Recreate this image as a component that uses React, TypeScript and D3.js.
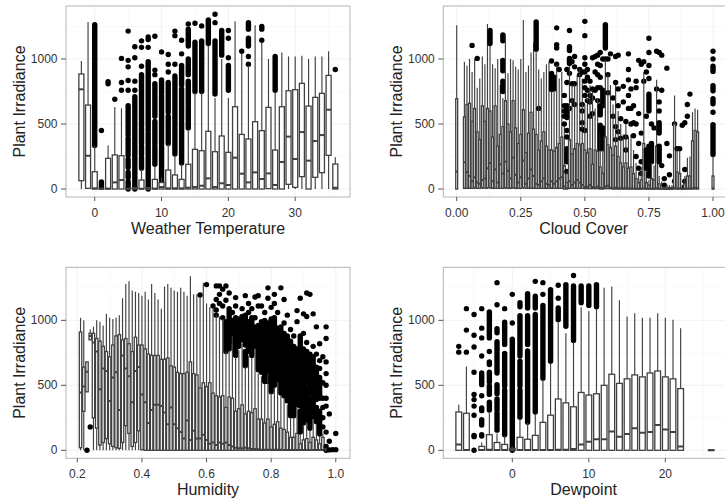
import React from 'react';
import * as d3 from 'd3';

// box rows: [x, low, q1, median, q3, high], runs: [x, lo, hi] for overplotted outliers, dots: [x, y]
type Box = number[];

const yTicks = [0, 500, 1000];
const yMinor = [250, 750, 1250];

const tempBoxes: Box[] = [
  [-2, 0, 64, 767, 885, 985], [-1, 0, 5, 256, 646, 1285], [0, 0, 0, 5, 133, 330], [1, 0, 0, 0, 5, 10],
  [2, 0, 0, 3, 236, 335], [3, 0, 0, 51, 262, 630], [4, 0, 0, 69, 256, 620], [5, 0, 0, 0, 5, 10],
  [6, 0, 0, 0, 10, 20], [7, 0, 0, 2, 69, 150], [8, 0, 0, 0, 10, 20], [9, 0, 0, 3, 74, 175],
  [10, 0, 0, 15, 50, 90], [11, 0, 0, 5, 146, 345], [12, 0, 0, 5, 108, 255], [13, 0, 0, 5, 74, 190],
  [14, 0, 0, 10, 190, 460], [15, 0, 0, 15, 305, 740], [16, 0, 0, 25, 295, 740], [17, 0, 0, 82, 444, 1100],
  [18, 0, 0, 15, 287, 700], [19, 0, 0, 44, 408, 1000], [20, 0, 0, 31, 282, 700], [21, 0, 0, 241, 633, 1290],
  [22, 0, 0, 118, 420, 1040], [23, 0, 0, 51, 385, 950], [24, 0, 0, 128, 518, 1260], [25, 0, 0, 77, 449, 1130],
  [26, 0, 3, 120, 628, 1000], [27, 0, 0, 31, 300, 740], [28, 0, 0, 208, 633, 1050], [29, 0, 36, 403, 756, 1020],
  [30, 0, 13, 231, 764, 1020], [31, 0, 95, 438, 813, 1025], [32, 0, 0, 218, 638, 1000], [33, 0, 90, 369, 705, 1020],
  [34, 0, 126, 415, 736, 1020], [35, 0, 259, 610, 874, 1060], [36, 0, 0, 10, 192, 245],
];
const tempRuns = [
  [0, 335, 1265], [1, 15, 55], [5, 0, 60], [5, 90, 130], [5, 165, 230], [5, 260, 300], [5, 320, 390], [5, 415, 480], [5, 500, 640], [6, 0, 90], [6, 110, 170], [6, 190, 290], [6, 310, 400], [6, 420, 520], [6, 540, 710],
  [7, 160, 240], [7, 265, 330], [7, 350, 460], [7, 480, 640], [7, 655, 880], [8, 0, 430], [8, 450, 980], [9, 190, 330], [9, 350, 520], [9, 560, 810], [10, 60, 320], [10, 340, 720], [10, 740, 840],
  [11, 350, 560], [11, 590, 820], [12, 270, 470], [12, 490, 700], [12, 720, 870], [13, 200, 510], [13, 530, 770], [13, 800, 950],
  [14, 470, 640], [14, 660, 830], [14, 880, 1000], [14, 1100, 1230], [15, 750, 1130], [16, 750, 1140], [17, 1120, 1300], [18, 730, 1140],
  [19, 1030, 1220], [20, 760, 950], [23, 1100, 1160], [23, 1230, 1280], [25, 1230, 1250], [27, 760, 1020],
];
const tempDots = [
  [1, 450], [2, 810], [2, 825], [3, 690], [4, 760], [4, 820], [4, 1005], [5, 760], [5, 835], [5, 940], [5, 990], [5, 1215],
  [6, 760], [6, 830], [6, 1010], [6, 1095], [7, 945], [7, 1090], [7, 1140], [8, 1090], [8, 1150], [8, 1170],
  [9, 880], [9, 915], [9, 1175], [10, 1055], [11, 900], [11, 960], [11, 1035], [12, 960], [12, 1180], [12, 1215],
  [13, 1040], [13, 1145], [14, 1270], [15, 1275], [16, 1255], [18, 1280], [18, 1345], [20, 1010], [20, 1160], [20, 1220],
  [22, 1060], [23, 960], [23, 1020], [25, 1145], [36, 920],
];

const cloudBoxes: Box[] = [
  [0, 0, 0, 135, 695, 1260], [0.03, 0, 5, 205, 555, 980], [0.04, 0, 5, 130, 650, 950], [0.05, 0, 5, 100, 660, 1000],
  [0.06, 0, 5, 60, 520, 900], [0.07, 0, 10, 90, 620, 1000], [0.08, 0, 5, 50, 440, 780], [0.09, 0, 5, 40, 380, 850],
  [0.1, 0, 10, 70, 640, 1020], [0.11, 0, 5, 80, 520, 960], [0.12, 0, 10, 160, 620, 1270], [0.13, 0, 10, 200, 600, 1100],
  [0.14, 0, 5, 60, 400, 960], [0.15, 0, 5, 150, 640, 930], [0.16, 0, 5, 50, 330, 1000], [0.17, 0, 5, 190, 420, 800],
  [0.18, 0, 5, 120, 480, 700], [0.19, 0, 10, 210, 680, 1190], [0.2, 0, 5, 140, 500, 890], [0.21, 0, 5, 80, 440, 1000],
  [0.22, 0, 10, 240, 680, 990], [0.23, 0, 5, 110, 470, 940], [0.24, 0, 5, 50, 350, 920], [0.25, 0, 5, 90, 420, 1000],
  [0.26, 0, 10, 220, 610, 1300], [0.27, 0, 5, 40, 280, 900], [0.28, 0, 5, 80, 430, 950], [0.29, 0, 5, 150, 590, 1050],
  [0.3, 0, 5, 100, 460, 1130], [0.31, 0, 5, 40, 420, 1060], [0.32, 0, 5, 30, 300, 920], [0.33, 0, 5, 60, 370, 850],
  [0.34, 0, 5, 80, 440, 900], [0.35, 0, 5, 40, 330, 960], [0.36, 0, 5, 30, 300, 980], [0.37, 0, 5, 60, 300, 750],
  [0.38, 0, 5, 40, 290, 750], [0.39, 0, 5, 60, 320, 950], [0.4, 0, 5, 80, 350, 850], [0.41, 0, 5, 90, 400, 900],
  [0.42, 0, 0, 20, 180, 480], [0.43, 0, 0, 5, 50, 130], [0.44, 0, 5, 60, 380, 950], [0.45, 0, 5, 30, 270, 800],
  [0.46, 0, 5, 50, 310, 800], [0.47, 0, 5, 70, 350, 880], [0.48, 0, 5, 50, 340, 920], [0.49, 0, 5, 30, 350, 850],
  [0.5, 0, 3, 15, 300, 650], [0.51, 0, 3, 20, 280, 700], [0.52, 0, 3, 30, 310, 800], [0.53, 0, 3, 15, 190, 760],
  [0.54, 0, 3, 10, 300, 620], [0.55, 0, 3, 20, 290, 700], [0.56, 0, 0, 10, 170, 430], [0.57, 0, 0, 5, 120, 300],
  [0.58, 0, 3, 20, 400, 1000], [0.59, 0, 3, 25, 340, 880], [0.6, 0, 3, 10, 320, 800], [0.61, 0, 0, 5, 260, 650],
  [0.62, 0, 0, 10, 330, 800], [0.63, 0, 0, 5, 250, 600], [0.64, 0, 0, 5, 200, 500], [0.65, 0, 0, 5, 170, 420],
  [0.66, 0, 0, 5, 200, 500], [0.67, 0, 0, 3, 160, 400], [0.68, 0, 0, 3, 170, 420], [0.69, 0, 0, 3, 120, 300],
  [0.7, 0, 0, 2, 80, 200], [0.71, 0, 0, 2, 50, 130], [0.72, 0, 0, 2, 70, 170], [0.73, 0, 0, 5, 350, 900],
  [0.74, 0, 0, 2, 50, 130], [0.75, 0, 0, 2, 30, 70], [0.76, 0, 0, 2, 80, 200], [0.77, 0, 0, 2, 70, 180],
  [0.78, 0, 0, 5, 330, 840], [0.79, 0, 0, 2, 40, 100], [0.8, 0, 0, 2, 25, 60], [0.81, 0, 0, 1, 8, 20],
  [0.82, 0, 0, 1, 15, 40], [0.83, 0, 0, 1, 10, 30], [0.84, 0, 0, 1, 12, 30], [0.85, 0, 0, 10, 500, 720],
  [0.86, 0, 0, 3, 130, 320], [0.87, 0, 0, 3, 120, 300], [0.88, 0, 0, 1, 10, 30], [0.89, 0, 0, 2, 40, 100],
  [0.9, 0, 0, 3, 100, 240], [0.91, 0, 0, 3, 100, 250], [0.92, 0, 0, 5, 370, 590], [0.93, 0, 0, 10, 450, 620],
  [0.94, 0, 0, 5, 440, 610], [1, 0, 0, 3, 100, 250],
];
const cloudRuns = [
  [0.13, 1120, 1220], [0.18, 750, 830], [0.18, 910, 990], [0.18, 1140, 1185], [0.31, 1075, 1285], [0.37, 765, 890], [0.38, 770, 860],
  [0.43, 210, 310], [0.43, 550, 640], [0.44, 965, 1005], [0.44, 1065, 1095], [0.56, 310, 490], [0.56, 570, 640], [0.57, 310, 470], [0.57, 640, 760], [0.58, 1085, 1265],
  [0.74, 160, 300], [0.75, 100, 330], [0.75, 600, 730], [0.76, 210, 350], [0.79, 210, 330], [0.79, 430, 510],
  [1, 265, 495], [1, 655, 695], [1, 755, 795], [1, 905, 945],
];
const cloudDots = [
  [0.06, 1105], [0.08, 1005], [0.32, 620], [0.37, 985], [0.39, 960], [0.39, 1085], [0.39, 1110], [0.39, 1240], [0.4, 920], [0.42, 720], [0.42, 640], [0.42, 600], [0.42, 560], [0.42, 500],
  [0.43, 135], [0.43, 400], [0.43, 450], [0.43, 820], [0.43, 920], [0.44, 1220], [0.44, 890], [0.44, 620], [0.45, 810], [0.45, 980], [0.45, 680], [0.46, 650], [0.46, 810], [0.46, 1020], [0.46, 940], [0.48, 880], [0.48, 920], [0.49, 460], [0.49, 510], [0.49, 600], [0.49, 650], [0.49, 900],
  [0.5, 450], [0.5, 720], [0.5, 830], [0.5, 960], [0.5, 1010], [0.5, 1180], [0.5, 1290], [0.5, 780], [0.5, 900], [0.51, 760], [0.51, 860], [0.51, 680], [0.51, 920], [0.52, 560], [0.52, 670], [0.52, 830], [0.52, 720], [0.53, 580], [0.53, 700], [0.53, 1010], [0.53, 770],
  [0.54, 760], [0.54, 1020], [0.54, 900], [0.55, 680], [0.55, 780], [0.55, 880], [0.55, 1030], [0.55, 960], [0.56, 1050], [0.56, 780], [0.56, 860], [0.56, 950], [0.57, 1000], [0.58, 1000], [0.59, 740], [0.59, 880], [0.59, 1000], [0.6, 1040],
  [0.61, 560], [0.61, 700], [0.62, 380], [0.62, 480], [0.62, 820], [0.62, 1020], [0.63, 440], [0.63, 640], [0.63, 770], [0.63, 1030], [0.64, 390], [0.64, 540], [0.65, 670], [0.65, 790],
  [0.66, 300], [0.66, 520], [0.66, 400], [0.67, 620], [0.67, 720], [0.67, 840], [0.67, 920], [0.67, 1040], [0.68, 500], [0.68, 620], [0.68, 770], [0.69, 410], [0.69, 510], [0.69, 640],
  [0.7, 250], [0.7, 500], [0.7, 780], [0.7, 830], [0.71, 160], [0.71, 350], [0.71, 580], [0.71, 990], [0.72, 120], [0.72, 210], [0.72, 430], [0.72, 960], [0.73, 830], [0.73, 980], [0.74, 900], [0.74, 560],
  [0.75, 1050], [0.75, 1160], [0.75, 950], [0.75, 850], [0.76, 500], [0.77, 470], [0.78, 1060], [0.78, 770], [0.79, 1050], [0.79, 670], [0.79, 600], [0.8, 180], [0.8, 760], [0.8, 1030], [0.82, 350], [0.82, 930],
  [0.81, 80], [0.81, 30], [0.83, 110], [0.83, 255], [0.85, 500], [0.85, 60], [0.86, 310], [0.87, 310], [0.88, 490], [0.89, 510], [0.89, 150], [0.89, 20], [0.89, 60], [0.9, 560], [0.9, 650], [0.91, 730], [1, 590], [1, 1000], [1, 1060],
];

const humidBoxes: Box[] = [
  [0.21, 0, 20, 445, 910, 1020], [0.22, 0, 300, 490, 640, 1000], [0.23, 450, 450, 605, 680, 680], [0.24, 850, 850, 880, 900, 930],
  [0.25, 0, 250, 830, 900, 950], [0.26, 0, 170, 760, 860, 1000], [0.27, 0, 40, 470, 840, 990], [0.28, 0, 60, 630, 800, 960],
  [0.29, 0, 90, 610, 760, 1050], [0.3, 0, 50, 380, 720, 1020], [0.31, 0, 30, 560, 810, 1010], [0.32, 0, 20, 600, 880, 1020],
  [0.33, 0, 15, 310, 890, 1040], [0.34, 0, 60, 730, 850, 1170], [0.35, 0, 190, 630, 860, 1280], [0.36, 0, 130, 570, 820, 1300],
  [0.37, 0, 30, 370, 760, 1230], [0.38, 0, 60, 610, 870, 1220], [0.39, 0, 150, 640, 810, 1210], [0.4, 0, 5, 430, 810, 1190],
  [0.41, 0, 0, 370, 780, 1220], [0.42, 0, 0, 210, 740, 1160], [0.43, 0, 0, 310, 730, 1280], [0.44, 0, 0, 350, 730, 1210],
  [0.45, 0, 0, 350, 730, 1160], [0.46, 0, 0, 340, 700, 1090], [0.47, 0, 0, 290, 700, 1260], [0.48, 0, 0, 200, 710, 1280],
  [0.49, 0, 0, 330, 650, 1250], [0.5, 0, 0, 200, 640, 1230], [0.51, 0, 0, 170, 600, 1220], [0.52, 0, 0, 140, 590, 1250],
  [0.53, 0, 0, 90, 590, 1220], [0.54, 0, 0, 230, 600, 1190], [0.55, 0, 0, 80, 680, 1340], [0.56, 0, 0, 150, 590, 1200],
  [0.57, 0, 0, 90, 580, 1200], [0.58, 0, 0, 90, 480, 1180], [0.59, 0, 0, 120, 520, 1290], [0.6, 0, 0, 80, 490, 1130],
  [0.61, 0, 0, 50, 520, 1100], [0.62, 0, 0, 60, 440, 1090], [0.63, 0, 0, 40, 420, 1040], [0.64, 0, 0, 60, 410, 1030],
  [0.65, 0, 0, 50, 420, 1010], [0.66, 0, 0, 60, 330, 760], [0.67, 0, 0, 40, 410, 770], [0.68, 0, 0, 30, 400, 880],
  [0.69, 0, 0, 20, 300, 720], [0.7, 0, 0, 15, 320, 770], [0.71, 0, 0, 15, 350, 820], [0.72, 0, 0, 20, 280, 640],
  [0.73, 0, 0, 15, 300, 730], [0.74, 0, 0, 10, 290, 710], [0.75, 0, 0, 10, 320, 780], [0.76, 0, 0, 8, 240, 590],
  [0.77, 0, 0, 5, 240, 570], [0.78, 0, 0, 5, 210, 510], [0.79, 0, 0, 5, 240, 590], [0.8, 0, 0, 5, 180, 440],
  [0.81, 0, 0, 5, 200, 480], [0.82, 0, 0, 5, 220, 520], [0.83, 0, 0, 5, 170, 420], [0.84, 0, 0, 3, 160, 400],
  [0.85, 0, 0, 3, 140, 350], [0.86, 0, 0, 3, 100, 250], [0.87, 0, 0, 3, 100, 250], [0.88, 0, 0, 2, 130, 330],
  [0.89, 0, 0, 2, 50, 130], [0.9, 0, 0, 2, 80, 190], [0.91, 0, 0, 2, 90, 220], [0.92, 0, 0, 2, 60, 150],
  [0.93, 0, 0, 2, 100, 240], [0.94, 0, 0, 2, 80, 200], [0.95, 0, 0, 2, 50, 110], [0.96, 0, 0, 2, 100, 130],
  [0.97, 0, 0, 1, 10, 20],
];
const humidRuns = [
  [0.66, 760, 990], [0.67, 780, 1090], [0.68, 840, 960], [0.69, 730, 1020], [0.7, 800, 1010], [0.71, 850, 1030], [0.72, 650, 760], [0.72, 810, 1040], [0.73, 760, 990],
  [0.74, 730, 1020], [0.75, 800, 950], [0.76, 620, 960], [0.77, 600, 990], [0.78, 530, 1000], [0.79, 530, 980], [0.8, 450, 1010], [0.81, 500, 1020],
  [0.82, 540, 940], [0.83, 440, 950], [0.84, 420, 900], [0.85, 380, 880], [0.86, 265, 840], [0.87, 265, 800], [0.88, 350, 780], [0.89, 140, 300], [0.89, 340, 880],
  [0.9, 210, 780], [0.91, 230, 480], [0.91, 520, 760], [0.92, 170, 400], [0.92, 440, 740], [0.93, 260, 720], [0.94, 220, 330], [0.94, 390, 640], [0.95, 125, 300], [0.95, 400, 560],
];
const humidDots = [
  [0.23, 0], [0.24, 180], [0.58, 1195], [0.6, 1275], [0.62, 1110], [0.63, 1040], [0.63, 1080], [0.63, 1160], [0.63, 1265], [0.64, 1130], [0.64, 1200], [0.64, 1265], [0.65, 1020], [0.65, 1110], [0.65, 1240], [0.66, 1155], [0.66, 1265],
  [0.67, 1210], [0.68, 1060], [0.68, 1000], [0.69, 1110], [0.69, 1175], [0.71, 1090], [0.72, 1190], [0.73, 1130], [0.73, 1060], [0.74, 1090], [0.75, 1180], [0.75, 1020], [0.76, 1110], [0.76, 1190], [0.77, 1110], [0.78, 1060], [0.79, 1170], [0.79, 1250],
  [0.8, 1100], [0.81, 1130], [0.81, 1200], [0.82, 1060], [0.83, 1250], [0.84, 1160], [0.84, 980], [0.85, 1040], [0.86, 930], [0.87, 880], [0.88, 1075], [0.88, 990], [0.89, 1170], [0.9, 1050], [0.9, 900], [0.91, 1210], [0.91, 830], [0.92, 1200], [0.91, 1030], [0.93, 1050], [0.93, 800],
  [0.94, 950], [0.94, 740], [0.95, 820], [0.95, 690], [0.95, 630], [0.96, 720], [0.96, 520], [0.96, 400], [0.96, 330], [0.96, 250], [0.96, 180], [0.97, 950], [0.97, 860], [0.97, 680], [0.97, 590], [0.97, 500], [0.97, 400], [0.97, 340], [0.97, 140], [0.97, 30], [0.98, 280], [0.98, 70], [0.98, 3], [0.99, 5], [1, 130], [1, 5], [0.97, 0],
];

const dewBoxes: Box[] = [
  [-7, 0, 0, 45, 295, 350], [-6, 0, 0, 3, 285, 645], [-4, 0, 0, 3, 30, 60], [-3, 0, 0, 5, 120, 290], [-2, 0, 0, 3, 60, 130], [-1, 0, 0, 3, 45, 110],
  [0, 0, 0, 3, 15, 30], [1, 0, 0, 3, 100, 240], [2, 0, 0, 3, 85, 210], [3, 0, 0, 3, 115, 280], [4, 0, 0, 3, 215, 540], [5, 0, 0, 3, 270, 670],
  [6, 0, 0, 5, 395, 980], [7, 0, 0, 5, 365, 900], [8, 0, 0, 10, 335, 830], [9, 0, 0, 45, 445, 1100], [10, 0, 0, 65, 425, 1070], [11, 0, 0, 85, 435, 1090],
  [12, 0, 0, 85, 500, 1250], [13, 0, 0, 145, 585, 1260], [14, 0, 0, 105, 515, 1155], [15, 0, 0, 125, 550, 1030], [16, 0, 0, 170, 580, 1055], [17, 0, 0, 135, 565, 1020],
  [18, 0, 0, 140, 595, 1020], [19, 0, 0, 195, 610, 1055], [20, 0, 0, 160, 565, 1020], [21, 0, 0, 140, 550, 1005], [22, 0, 0, 30, 475, 940], [26, 0, 0, 0, 3, 3],
];
const dewRuns = [
  [-4, 110, 120], [-4, 195, 235], [-4, 305, 325], [-4, 505, 595], [-3, 310, 370], [-3, 430, 495], [-3, 525, 600], [-3, 660, 680], [-3, 865, 1065], [-2, 155, 285], [-2, 310, 395], [-2, 435, 505], [-2, 595, 700], [-2, 720, 835], [-2, 905, 935],
  [-1, 120, 315], [-1, 335, 465], [-1, 495, 745], [-1, 815, 985], [0, 0, 410], [0, 430, 855], [1, 255, 465], [1, 495, 685], [1, 725, 1035], [1, 1105, 1135], [2, 215, 500], [2, 520, 765], [2, 815, 1035], [2, 1095, 1205],
  [3, 295, 560], [3, 580, 1045], [3, 1095, 1185], [4, 555, 1115], [5, 685, 1235], [6, 1005, 1095], [7, 955, 1275], [8, 845, 1265], [9, 1135, 1265], [10, 1115, 1265], [11, 1105, 1275],
];
const dewDots = [
  [-7, 755], [-7, 800], [-6, 755], [-6, 925], [-6, 1090], [-5, 0], [-5, 105], [-5, 115], [-5, 270], [-5, 340], [-5, 390], [-5, 430], [-5, 600], [-5, 795], [-5, 885], [-5, 1045],
  [-4, 420], [-4, 725], [-4, 865], [-4, 940], [-4, 1090], [-3, 760], [-2, 1120], [-2, 1290], [-1, 1090], [0, 980], [0, 1200], [3, 1300], [4, 1200], [4, 1290], [6, 1170], [6, 1270], [8, 1345],
];

const tempTicks = [0, 10, 20, 30];
const tempMinor = [-5, 5, 15, 25, 35];
const cloudTicks = [0, 0.25, 0.5, 0.75, 1];
const cloudMinor = [0.125, 0.375, 0.625, 0.875];
const humidTicks = [0.2, 0.4, 0.6, 0.8, 1];
const humidMinor = [0.3, 0.5, 0.7, 0.9];
const dewTicks = [0, 10, 20];
const dewMinor = [-5, 5, 15, 25];

const DARK = '#404040';

const Panel = ({ left, right, top, bottom, xDomain, xTicks, xMinor, fmt, title, boxes, runs, dots, boxWidth }: any) => {
  const x = d3.scaleLinear().domain(xDomain).range([left, right]);
  const y = d3.scaleLinear().domain([-61.5, 1408]).range([bottom, top]);
  const clip = `clip-${title.replace(' ', '')}`;
  const format = d3.format(fmt);
  const w = x(xDomain[0] + boxWidth) - x(xDomain[0]);

  return (
    <g>
      <clipPath id={clip}><rect x={left} y={top} width={right - left} height={bottom - top} /></clipPath>
      <rect x={left} y={top} width={right - left} height={bottom - top} fill="#fff" />
      {xMinor.filter((t: number) => x(t) > left).map((t: number) => (
        <line key={t} x1={x(t)} x2={x(t)} y1={top} y2={bottom} stroke="#f7f7f7" strokeWidth={0.7} />
      ))}
      {yMinor.map(t => <line key={t} x1={left} x2={right} y1={y(t)} y2={y(t)} stroke="#f7f7f7" strokeWidth={0.7} />)}
      {xTicks.map((t: number) => <line key={t} x1={x(t)} x2={x(t)} y1={top} y2={bottom} stroke="#ededed" strokeWidth={0.8} />)}
      {yTicks.map(t => <line key={t} x1={left} x2={right} y1={y(t)} y2={y(t)} stroke="#ededed" strokeWidth={0.8} />)}

      <g clipPath={`url(#${clip})`}>
        {d3.sort(d3.union(boxes.map((b: Box) => b[0]), dots.map((d: number[]) => d[0]), runs.map((r: number[]) => r[0]))).map((cx: any) => {
          const box = boxes.find((b: Box) => b[0] === cx);
          return (
            <g key={cx}>
              {runs.filter((r: number[]) => r[0] === cx).map((r: number[], i: number) => (
                <line key={i} x1={x(cx)} x2={x(cx)} y1={y(r[1])} y2={y(r[2])} stroke="#000" strokeWidth={5.4} strokeLinecap="round" />
              ))}
              {dots.filter((d: number[]) => d[0] === cx).map((d: number[], i: number) => (
                <circle key={i} cx={x(cx)} cy={y(d[1])} r={2.7} fill="#000" />
              ))}
              {box && (
                <g stroke={DARK}>
                  <line x1={x(cx)} x2={x(cx)} y1={y(box[4])} y2={y(box[5])} strokeWidth={1.15} />
                  <line x1={x(cx)} x2={x(cx)} y1={y(box[1])} y2={y(box[2])} strokeWidth={1.15} />
                  <rect x={x(cx) - w / 2} y={y(box[4])} width={w} height={Math.max(0.5, y(box[2]) - y(box[4]))} fill="#fff" strokeWidth={1.3} />
                  <line x1={x(cx) - w / 2} x2={x(cx) + w / 2} y1={y(box[3])} y2={y(box[3])} strokeWidth={2} />
                </g>
              )}
            </g>
          );
        })}
      </g>

      <rect x={left} y={top} width={right - left} height={bottom - top} fill="none" stroke="#b4b4b4" strokeWidth={1} />

      {xTicks.map((t: number) => (
        <g key={t}>
          <line x1={x(t)} x2={x(t)} y1={bottom} y2={bottom + 4} stroke="#555" />
          <text x={x(t)} y={bottom + 20} textAnchor="middle" fontSize={12} fill="#333">{format(t)}</text>
        </g>
      ))}
      {yTicks.map(t => (
        <g key={t}>
          <line x1={left - 5} x2={left} y1={y(t)} y2={y(t)} stroke="#555" />
          <text x={left - 8.5} y={y(t) + 4} textAnchor="end" fontSize={12} fill="#333">{t}</text>
        </g>
      ))}
      <text x={(left + right) / 2 + (right > 700 ? -1.5 : 0)} y={bottom + 37} textAnchor="middle" fontSize={16} fill="#222">{title}</text>
      <text transform={`translate(${left - 47},${(top + bottom) / 2}) rotate(-90)`} y={5.5} textAnchor="middle" fontSize={16} fill="#222">Plant Irradiance</text>
    </g>
  );
};

export default function App() {
  return (
    <svg width={725} height={502} style={{ position: 'absolute', left: 0, top: 0, background: '#fff', fontFamily: '"Liberation Sans", Arial, sans-serif' }}>
      <Panel left={66} right={350} top={6} bottom={197} xDomain={[-4.3, 38.2]} xTicks={tempTicks} xMinor={tempMinor} fmt="d"
        title="Weather Temperature" boxes={tempBoxes} runs={tempRuns} dots={tempDots} boxWidth={0.75} />
      <Panel left={443.3} right={727} top={6} bottom={197} xDomain={[-0.0523, 1.0546]} xTicks={cloudTicks} xMinor={cloudMinor} fmt=".2f"
        title="Cloud Cover" boxes={cloudBoxes} runs={cloudRuns} dots={cloudDots} boxWidth={0.0075} />
      <Panel left={66} right={350} top={267.3} bottom={458.3} xDomain={[0.165, 1.044]} xTicks={humidTicks} xMinor={humidMinor} fmt=".1f"
        title="Humidity" boxes={humidBoxes} runs={humidRuns} dots={humidDots} boxWidth={0.0075} />
      <Panel left={443.3} right={727} top={267.3} bottom={458.3} xDomain={[-9.02, 28.06]} xTicks={dewTicks} xMinor={dewMinor} fmt="d"
        title="Dewpoint" boxes={dewBoxes} runs={dewRuns} dots={dewDots} boxWidth={0.75} />
    </svg>
  );
}
